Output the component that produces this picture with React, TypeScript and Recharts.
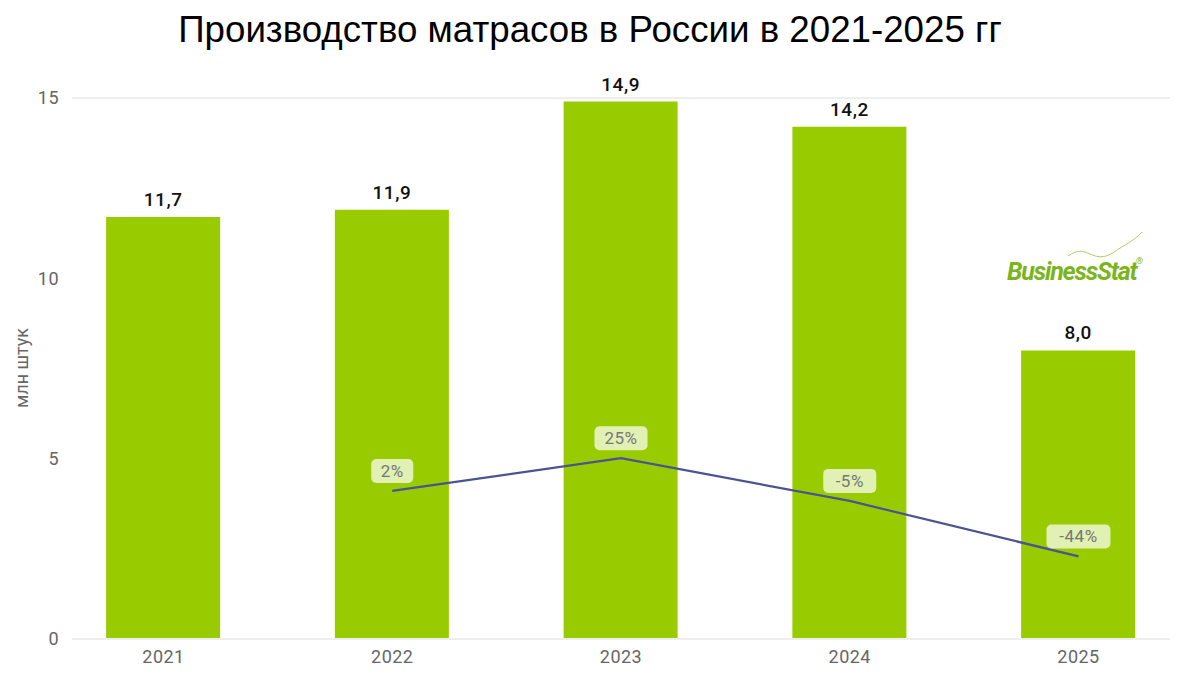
import React from "react";
import {
  ComposedChart,
  Bar,
  Line,
  XAxis,
  YAxis,
  CartesianGrid,
  LabelList,
  Customized,
} from "recharts";

const years = ["2021", "2022", "2023", "2024", "2025"];
const production = [11.7, 11.9, 14.9, 14.2, 8.0];
const growth: (number | null)[] = [null, 2, 25, -5, -44];
const yTicks = [0, 5, 10, 15];

const data = years.map((y, i) => ({
  idx: i,
  year: y,
  production: production[i],
  growth: growth[i],
}));

const fmtComma = (v: number) => v.toFixed(1).replace(".", ",");

const GrowthLabel = (props: any) => {
  const { x, y, value } = props;
  if (value === null || value === undefined) return null;
  const text = `${value}%`;
  const w = text.length * 11 + 20;
  const h = 24;
  const cy = y - 20;
  return (
    <g>
      <rect x={x - w / 2} y={cy - h / 2} width={w} height={h} rx={5} fill="#ffffff" fillOpacity={0.7} />
      <text
        x={x}
        y={cy + 6}
        textAnchor="middle"
        fill="#777777"
        fontSize={17}
        fontFamily="Roboto"
        letterSpacing={0.5}
      >
        {text}
      </text>
    </g>
  );
};

const Extras = () => (
  <g>
    <text
      x={21}
      y={368}
      transform="rotate(-90 21 368)"
      textAnchor="middle"
      dominantBaseline="central"
      fill="#666666"
      fontSize={18}
      fontFamily="Roboto"
    >
      млн штук
    </text>
    <path
      d="M1068,256 C1078,249 1083,251 1090,254 S1104,259 1114,252 S1134,241 1142,232"
      fill="none"
      stroke="#a6d45a"
      strokeWidth={1}
    />
    <text
      x={1007}
      y={280}
      fill="#7ab51d"
      fontSize={25}
      fontWeight="bold"
      fontStyle="italic"
      fontFamily="Roboto"
      letterSpacing={-1.2}
    >
      BusinessStat
    </text>
    <text x={1136} y={264} fill="#7ab51d" fontSize={9} fontFamily="Roboto">
      ®
    </text>
  </g>
);

export default function App() {
  return (
    <div style={{ position: "absolute", left: 0, top: 0, width: 1180, height: 676, background: "#fff" }}>
      <div
        style={{
          position: "absolute",
          left: 0,
          top: 8,
          width: 1180,
          textAlign: "center",
          fontFamily: "'Liberation Sans', Arial, sans-serif",
          fontSize: 36.7,
          color: "#000",
          lineHeight: "44px",
        }}
      >
        Производство матрасов в России в 2021-2025 гг
      </div>
      <ComposedChart
        width={1180}
        height={676}
        data={data}
        margin={{ top: 98, right: 10, left: 0, bottom: 0 }}
      >
        <CartesianGrid vertical={false} stroke="#eeeeee" strokeWidth={2} />
        <XAxis
          dataKey="idx"
          type="number"
          domain={[-0.4, 4.4]}
          ticks={[0, 1, 2, 3, 4]}
          tickFormatter={(i: number) => years[i]}
          allowDataOverflow
          height={37}
          tickSize={0}
          tickMargin={11}
          axisLine={{ stroke: "#eeeeee", strokeWidth: 2 }}
          tick={{ fill: "#666666", fontSize: 18, fontFamily: "Roboto", letterSpacing: 0.5 }}
        />
        <YAxis
          yAxisId="left"
          domain={[0, 15]}
          ticks={yTicks}
          width={72}
          tickSize={0}
          tickMargin={13}
          axisLine={false}
          tickLine={false}
          tick={{ fill: "#666666", fontSize: 18, fontFamily: "Roboto", letterSpacing: 0.5 }}
        />
        <YAxis yAxisId="g" orientation="right" domain={[-102, 278]} hide />
        <Bar yAxisId="left" dataKey="production" fill="#99cc00" barSize={114} isAnimationActive={false}>
          <LabelList
            dataKey="production"
            position="top"
            offset={11}
            formatter={(v: any) => fmtComma(Number(v))}
            fill="#111111"
            fontSize={19}
            fontWeight={500}
            fontFamily="Roboto"
            letterSpacing={0.5}
          />
        </Bar>
        <Line
          yAxisId="g"
          dataKey="growth"
          stroke="#4b5392"
          strokeWidth={2.2}
          dot={false}
          activeDot={false}
          isAnimationActive={false}
        >
          <LabelList dataKey="growth" content={<GrowthLabel />} />
        </Line>
        <Customized component={Extras} />
      </ComposedChart>
    </div>
  );
}
